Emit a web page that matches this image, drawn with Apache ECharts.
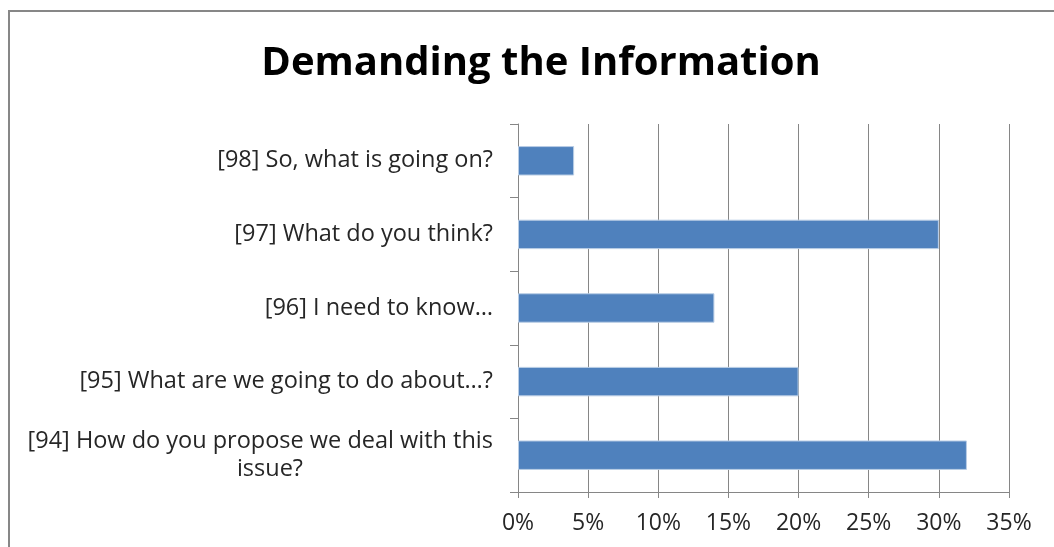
<!DOCTYPE html>
<html>
<head>
<meta charset="utf-8">
<script src="https://cdn.jsdelivr.net/npm/echarts@6/dist/echarts.min.js"></script>
<style>
  html, body { margin: 0; padding: 0; background: #fff; }
  #chart { width: 1054px; height: 547px; }
</style>
</head>
<body>
<div id="chart"></div>
<script>
// Survey responses: share of answers per question (percent)
const categories = [
  '[94] How do you propose we deal with this issue?',
  '[95] What are we going to do about…?',
  '[96] I need to know…',
  '[97] What do you think?',
  '[98] So, what is going on?'
];
const values = [32, 20, 14, 30, 4];
const tickLabels = ['0%', '5%', '10%', '15%', '20%', '25%', '30%', '35%'];

const FONT = '"Open Sans", sans-serif';
const TEXT = '#262626';
const LABEL_SIZE = 23.5;

const chart = echarts.init(document.getElementById('chart'));
chart.setOption({
  animation: false,
  backgroundColor: '#ffffff',
  title: {
    text: 'Demanding the Information',
    left: 536,
    textAlign: 'center',
    top: 39,
    textStyle: { fontFamily: FONT, fontSize: 40, fontWeight: 'bold', color: '#000' }
  },
  graphic: [{
    type: 'rect',
    shape: { x: 9, y: 11, width: 1200, height: 700 },
    style: { fill: 'none', stroke: '#878787', lineWidth: 2 },
    silent: true
  }],
  grid: { left: 518, right: 45, top: 124, bottom: 55, containLabel: false },
  xAxis: {
    type: 'value',
    min: 0,
    max: 35,
    interval: 5,
    axisLine: { show: true, lineStyle: { color: '#868686', width: 1 } },
    axisTick: { show: true, length: 6, lineStyle: { color: '#868686' } },
    splitLine: { show: true, lineStyle: { color: '#868686', width: 1 } },
    axisLabel: {
      margin: 20,
      fontFamily: FONT,
      fontSize: 23,
      color: TEXT,
      formatter: (v) => tickLabels[Math.round(v / 5)]
    }
  },
  yAxis: {
    type: 'category',
    data: categories,
    axisLine: { show: true, lineStyle: { color: '#868686', width: 1 } },
    axisTick: { show: true, length: 8, lineStyle: { color: '#868686' } },
    axisLabel: {
      margin: 25,
      fontFamily: FONT,
      fontSize: LABEL_SIZE,
      color: TEXT,
      lineHeight: 28,
      formatter: (v) => {
        if (v.indexOf('[94]') === 0) {
          return '{a|[94] How do you propose we deal with this}\n{b|issue?}';
        }
        return v;
      },
      rich: {
        a: { fontFamily: FONT, fontSize: LABEL_SIZE, color: TEXT, lineHeight: 28 },
        b: { fontFamily: FONT, fontSize: LABEL_SIZE, color: TEXT, lineHeight: 28, padding: [0, 190, 0, 0] }
      }
    }
  },
  series: [{
    type: 'bar',
    data: values,
    barCategoryGap: '60%',
    itemStyle: { color: '#4F81BD', borderColor: '#b9cde5', borderWidth: 1 }
  }]
});
</script>
</body>
</html>
